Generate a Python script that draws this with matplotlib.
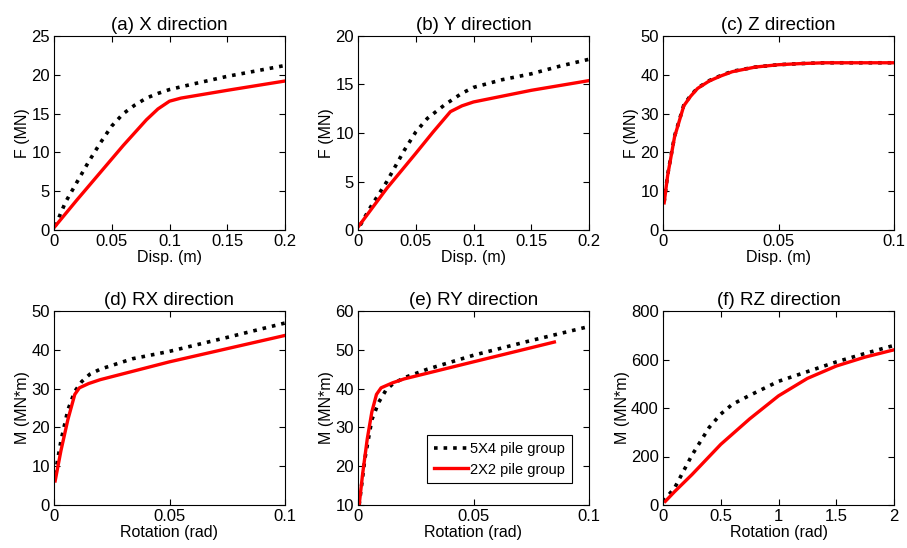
import numpy as np
import matplotlib
matplotlib.use("Agg")
import matplotlib.pyplot as plt

plt.rcParams['font.family'] = ['Liberation Sans', 'DejaVu Sans']

# (a) X direction  -- disp (m) vs F (MN)
xa_5x4 = [0.001, 0.01, 0.02, 0.03, 0.04, 0.05, 0.06, 0.07, 0.08, 0.09, 0.1, 0.12, 0.15, 0.175, 0.2]
ya_5x4 = [0.5, 3.6, 6.2, 8.8, 11.2, 13.4, 15.0, 16.1, 17.0, 17.6, 18.1, 18.8, 19.8, 20.5, 21.2]
xa_2x2 = [0.0, 0.02, 0.04, 0.06, 0.08, 0.09, 0.1, 0.11, 0.13, 0.15, 0.175, 0.2]
ya_2x2 = [0.3, 3.9, 7.4, 10.9, 14.2, 15.6, 16.6, 17.0, 17.5, 18.0, 18.6, 19.2]

# (b) Y direction
xb_5x4 = [0.002, 0.01, 0.025, 0.04, 0.05, 0.06, 0.075, 0.09, 0.1, 0.125, 0.15, 0.175, 0.2]
yb_5x4 = [0.5, 2.2, 5.0, 8.2, 10.1, 11.5, 12.9, 14.1, 14.7, 15.5, 16.1, 16.9, 17.6]
xb_2x2 = [0.0, 0.025, 0.05, 0.065, 0.08, 0.09, 0.1, 0.125, 0.15, 0.175, 0.2]
yb_2x2 = [0.3, 4.3, 7.9, 10.1, 12.2, 12.8, 13.2, 13.8, 14.4, 14.9, 15.4]

# (c) Z direction
xc_5x4 = [0.0005, 0.002, 0.005, 0.009, 0.012, 0.015, 0.02, 0.025, 0.03, 0.04, 0.05, 0.06, 0.07, 0.1]
yc_5x4 = [7.2, 14.2, 24.2, 32.2, 34.7, 36.6, 38.5, 39.8, 40.9, 42.0, 42.6, 42.9, 43.1, 43.1]
xc_2x2 = [0.0005, 0.002, 0.005, 0.009, 0.012, 0.015, 0.02, 0.025, 0.03, 0.04, 0.05, 0.06, 0.07, 0.1]
yc_2x2 = [7.0, 14.0, 24.0, 32.0, 34.5, 36.5, 38.4, 39.7, 40.8, 42.0, 42.6, 42.9, 43.1, 43.1]

# (d) RX direction -- rotation (rad) vs M (MN*m)
xd_5x4 = [0.0005, 0.003, 0.006, 0.009, 0.012, 0.0155, 0.02, 0.034, 0.05, 0.075, 0.1]
yd_5x4 = [8.0, 16.5, 24.5, 29.3, 31.8, 33.7, 35.0, 37.7, 39.6, 43.2, 46.9]
xd_2x2 = [0.0005, 0.003, 0.006, 0.009, 0.011, 0.015, 0.02, 0.05, 0.075, 0.1]
yd_2x2 = [6.2, 14.0, 22.0, 28.5, 30.2, 31.3, 32.3, 36.9, 40.3, 43.7]

# (e) RY direction
xe_5x4 = [0.0005, 0.003, 0.006, 0.009, 0.012, 0.015, 0.02, 0.03, 0.05, 0.075, 0.1]
ye_5x4 = [10.0, 22.0, 32.0, 36.5, 39.5, 41.2, 42.8, 45.0, 48.6, 52.4, 56.0]
xe_2x2 = [0.0005, 0.002, 0.004, 0.006, 0.008, 0.01, 0.015, 0.02, 0.05, 0.085]
ye_2x2 = [10.0, 18.0, 27.0, 34.0, 38.5, 40.2, 41.5, 42.5, 46.9, 52.0]

# (f) RZ direction
xf_5x4 = [0.0, 0.1, 0.25, 0.4, 0.5, 0.6, 0.75, 1.0, 1.25, 1.5, 1.75, 2.0]
yf_5x4 = [15, 70, 205, 320, 375, 415, 452, 510, 550, 590, 625, 658]
xf_2x2 = [0.02, 0.1, 0.25, 0.5, 0.75, 1.0, 1.25, 1.5, 1.75, 2.0]
yf_2x2 = [15, 55, 125, 250, 355, 450, 522, 573, 610, 640]

panels = [
    ("(a) X direction", xa_5x4, ya_5x4, xa_2x2, ya_2x2, "Disp. (m)", "F (MN)",
     (0, 0.2), (0, 25), [0, 0.05, 0.1, 0.15, 0.2], [0, 5, 10, 15, 20, 25]),
    ("(b) Y direction", xb_5x4, yb_5x4, xb_2x2, yb_2x2, "Disp. (m)", "F (MN)",
     (0, 0.2), (0, 20), [0, 0.05, 0.1, 0.15, 0.2], [0, 5, 10, 15, 20]),
    ("(c) Z direction", xc_5x4, yc_5x4, xc_2x2, yc_2x2, "Disp. (m)", "F (MN)",
     (0, 0.1), (0, 50), [0, 0.05, 0.1], [0, 10, 20, 30, 40, 50]),
    ("(d) RX direction", xd_5x4, yd_5x4, xd_2x2, yd_2x2, "Rotation (rad)", "M (MN*m)",
     (0, 0.1), (0, 50), [0, 0.05, 0.1], [0, 10, 20, 30, 40, 50]),
    ("(e) RY direction", xe_5x4, ye_5x4, xe_2x2, ye_2x2, "Rotation (rad)", "M (MN*m)",
     (0, 0.1), (10, 60), [0, 0.05, 0.1], [10, 20, 30, 40, 50, 60]),
    ("(f) RZ direction", xf_5x4, yf_5x4, xf_2x2, yf_2x2, "Rotation (rad)", "M (MN*m)",
     (0, 2), (0, 800), [0, 0.5, 1, 1.5, 2], [0, 200, 400, 600, 800]),
]

W, H = 907, 548
fig = plt.figure(figsize=(W / 100, H / 100), dpi=100)
lefts = [54, 358, 663]
tops = [36, 311]
aw, ah = 231, 194

for i, (title, x1, y1, x2, y2, xl, yl, xlim, ylim, xt, yt) in enumerate(panels):
    r, c = divmod(i, 3)
    ax = fig.add_axes([lefts[c] / W, 1 - (tops[r] + ah) / H, aw / W, ah / H])
    ax.plot(x1, y1, color='black', linestyle=':', linewidth=2.6, label='5X4 pile group')
    ax.plot(x2, y2, color='red', linestyle='-', linewidth=2.4, label='2X2 pile group')
    ax.set_xlim(xlim)
    ax.set_ylim(ylim)
    ax.set_xticks(xt)
    ax.set_xticklabels([('%g' % v) for v in xt])
    ax.set_yticks(yt)
    ax.set_title(title, fontsize=13.5, pad=4)
    ax.set_xlabel(xl, fontsize=11.5, labelpad=0.5)
    ax.set_ylabel(yl, fontsize=11.5, labelpad=1)
    ax.tick_params(direction='in', top=True, right=True, labelsize=12, length=4)
    ax.tick_params(axis='x', pad=3)
    ax.tick_params(axis='y', pad=3)
    for s in ax.spines.values():
        s.set_linewidth(0.8)
    if i == 4:
        leg = ax.legend(loc='lower right', fontsize=10.5, handlelength=2.3,
                        fancybox=False, edgecolor='black', framealpha=1,
                        borderpad=0.45, labelspacing=0.45, handletextpad=0.2,
                        borderaxespad=0, bbox_to_anchor=(0.926, 0.113))
        leg.get_frame().set_linewidth(0.8)

fig.savefig("out.png", dpi=100)
